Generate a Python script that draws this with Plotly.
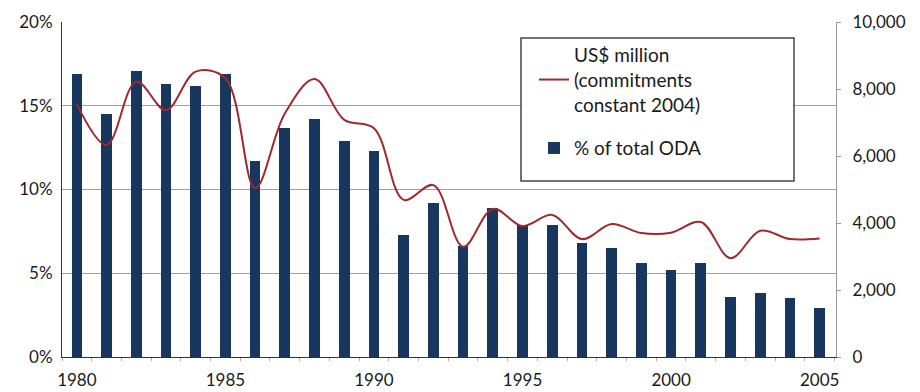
import plotly.graph_objects as go

years = list(range(1980, 2006))
pct_oda = [16.9, 14.5, 17.1, 16.3, 16.2, 16.9, 11.7, 13.7, 14.2, 12.9, 12.3,
           7.3, 9.2, 6.6, 8.9, 7.9, 7.9, 6.8, 6.5, 5.6, 5.2, 5.6, 3.6, 3.8, 3.5, 2.9]
usd_million = [7550, 6330, 8220, 7370, 8520, 8320, 5040, 7270, 8300, 7080, 6830,
               4690, 5130, 3290, 4420, 3910, 4240, 3520, 3970, 3700, 3710, 4030,
               2950, 3770, 3520, 3540]

left_ticks = [0, 5, 10, 15, 20]
left_labels = ["0%", "5%", "10%", "15%", "20%"]
right_ticks = [0, 2000, 4000, 6000, 8000, 10000]
right_labels = ["0", "2,000", "4,000", "6,000", "8,000", "10,000"]
x_ticks = [1980, 1985, 1990, 1995, 2000, 2005]

line_name = "US$ million<br>(commitments<br>constant 2004)"
bar_name = "% of total ODA"

FONT = "Lato"
TXT = "#1a1a1a"

fig = go.Figure()
fig.add_trace(go.Bar(
    x=years, y=pct_oda, name=bar_name, width=0.36,
    marker=dict(color="#17375e", line=dict(width=0)),
    yaxis="y", legendrank=2, legendgroup="b",
))
fig.add_trace(go.Scatter(
    x=years, y=usd_million, name=line_name, mode="lines",
    line=dict(color="#9e2a2f", width=2, shape="spline", smoothing=1.0),
    yaxis="y2", legendrank=1, legendgroup="a",
))

fig.update_layout(
    width=920, height=392,
    margin=dict(l=62, r=84, t=22, b=35),
    paper_bgcolor="white", plot_bgcolor="white",
    font=dict(family=FONT, size=17, color=TXT),
    showlegend=True,
    legend=dict(
        x=(534 - 62) / 774, y=(357 - 36) / 335, xanchor="left", yanchor="top",
        bgcolor="rgba(0,0,0,0)", borderwidth=0,
        font=dict(family=FONT, size=19, color=TXT),
        traceorder="grouped", itemwidth=30, tracegroupgap=16,
    ),
    xaxis=dict(
        range=[1979.5, 2005.55], tickvals=x_ticks,
        ticktext=[str(v) for v in x_ticks],
        showgrid=False, zeroline=False, automargin=False,
        showline=True, linecolor="#333333", linewidth=1,
        ticks="", ticklabelstandoff=8,
        minor=dict(ticks="outside", ticklen=3, tickcolor="#aaaaaa",
                   tick0=1979.5, dtick=1),
        tickfont=dict(size=17, family=FONT, color=TXT),
    ),
    yaxis=dict(
        range=[0, 20], tickvals=left_ticks, ticktext=left_labels,
        showgrid=True, gridcolor="#a0a0a0", gridwidth=1, automargin=False,
        zeroline=False, showline=True, linecolor="#333333", linewidth=1,
        ticks="", ticklabelstandoff=5,
        tickfont=dict(size=17, family=FONT, color=TXT),
    ),
    yaxis2=dict(
        range=[0, 10000], tickvals=right_ticks, ticktext=right_labels,
        overlaying="y", side="right", showgrid=False, zeroline=False,
        automargin=False,
        showline=True, linecolor="#999999", linewidth=1,
        ticks="outside", ticklen=4, tickcolor="#999999",
        ticklabelstandoff=8,
        tickfont=dict(size=17, family=FONT, color=TXT),
    ),
    bargap=0,
)

# legend frame
fig.add_shape(type="rect", xref="paper", yref="paper",
              x0=(521 - 62) / 774, x1=(794 - 62) / 774,
              y0=(357 - 181) / 335, y1=(357 - 38) / 335,
              line=dict(color="#444444", width=1.5), fillcolor="white",
              layer="above")

fig.write_html("out.html")
